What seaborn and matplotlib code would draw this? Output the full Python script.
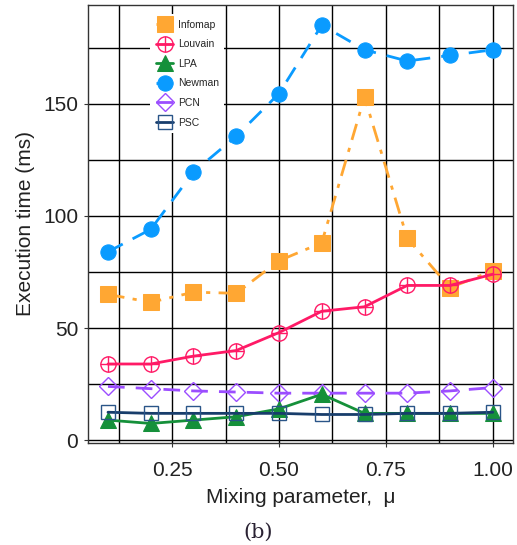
import numpy as np
import pandas as pd
import matplotlib
matplotlib.use("Agg")
import matplotlib.pyplot as plt
import seaborn as sns
from matplotlib.ticker import MultipleLocator

mu = [0.1, 0.2, 0.3, 0.4, 0.5, 0.6, 0.7, 0.8, 0.9, 1.0]
infomap = [65, 61.5, 66, 65.5, 80, 88, 153, 90, 68, 75.5]
louvain = [34, 34, 37.5, 40, 48, 57.5, 59.5, 69, 69, 74]
lpa = [9, 7.5, 9, 10.5, 14, 20.5, 12, 12, 12, 12]
newman = [84, 94, 119.5, 135.5, 154.5, 185, 174, 169, 171.5, 174]
pcn = [24, 23, 22, 21.5, 21, 21, 21, 21, 22, 23.5]
psc = [12.5, 12, 12, 12, 12, 11.5, 11.5, 12, 12, 12.5]

sns.set_style("white")
plt.rcParams['font.family'] = ['Liberation Sans', 'DejaVu Sans']

fig = plt.figure(figsize=(5.17, 5.45), dpi=100)
ax = fig.add_axes([0.170, 0.188, 0.822, 0.803])

handles = []
sns.lineplot(x=mu, y=newman, ax=ax, color='#0a9bff', linestyle=(0, (6, 4)), linewidth=2,
             marker='o', markersize=11, markeredgecolor='#0a9bff')
handles.append(('Newman', ax.lines[-1]))
sns.lineplot(x=mu, y=infomap, ax=ax, color='#ffa733', linestyle=(0, (6, 3, 1.5, 3)), linewidth=2,
             marker='s', markersize=11, markeredgecolor='#ffa733')
handles.append(('Infomap', ax.lines[-1]))
sns.lineplot(x=mu, y=louvain, ax=ax, color='#ff1a66', linestyle='-', linewidth=2,
             marker='o', markersize=11, markerfacecolor='none', markeredgecolor='#ff1a66', markeredgewidth=1)
l1 = ax.lines[-1]
sns.lineplot(x=mu, y=louvain, ax=ax, color='#ff1a66', linestyle='none',
             marker='+', markersize=11, markeredgecolor='#ff1a66', markeredgewidth=1)
l2 = ax.lines[-1]
handles.append(('Louvain', (l1, l2)))
sns.lineplot(x=mu, y=pcn, ax=ax, color='#9b4dff', linestyle=(0, (6, 4)), linewidth=2,
             marker='D', markersize=9, markerfacecolor='none', markeredgecolor='#9b4dff', markeredgewidth=1)
handles.append(('PCN', ax.lines[-1]))
sns.lineplot(x=mu, y=lpa, ax=ax, color='#15903a', linestyle='-', linewidth=2,
             marker='^', markersize=11, markeredgecolor='#15903a')
handles.append(('LPA', ax.lines[-1]))
sns.lineplot(x=mu, y=psc, ax=ax, color='#183d6b', linestyle='-', linewidth=2,
             marker='s', markersize=10, markerfacecolor='none', markeredgecolor='#2a5588', markeredgewidth=1)
handles.append(('PSC', ax.lines[-1]))

ax.set_xlim(0.053, 1.047)
ax.set_ylim(-1, 194)
ax.xaxis.set_minor_locator(MultipleLocator(0.125))
ax.yaxis.set_major_locator(MultipleLocator(50))
ax.yaxis.set_minor_locator(MultipleLocator(25))
ax.set_xticks([0.25, 0.5, 0.75, 1.0])
ax.set_xticklabels(['0.25', '0.50', '0.75', '1.00'])
ax.grid(True, which='both', color='black', linewidth=1)
ax.set_axisbelow(True)
for s in ax.spines.values():
    s.set_color('#333333')
    s.set_linewidth(1)
ax.tick_params(axis='both', which='major', labelsize=15, length=3, color='#333333', direction='out',
               bottom=True, left=True, labelcolor='#222222')
ax.tick_params(axis='x', which='major', pad=10)
ax.tick_params(axis='y', which='major', pad=4)
ax.set_xlabel('Mixing parameter,  μ', fontsize=15, color='#222222', labelpad=6)
ax.set_ylabel('Execution time (ms)', fontsize=15, color='#222222', labelpad=6)

order = ['Infomap', 'Louvain', 'LPA', 'Newman', 'PCN', 'PSC']
hd = dict(handles)
leg = ax.legend([hd[k] for k in order], order, loc='upper left', bbox_to_anchor=(0.135, 0.99),
                fontsize=7.5, frameon=True, framealpha=1, edgecolor='white', facecolor='white',
                handlelength=1.7, labelspacing=0.92, borderpad=0.5, handletextpad=0.45, markerscale=1.0)
leg.get_frame().set_linewidth(0)

fig.text(0.5, 0.024, '(b)', ha='center', va='center', fontsize=15, family='DejaVu Serif', color='#2a2233')

fig.savefig('out.png', dpi=100)
